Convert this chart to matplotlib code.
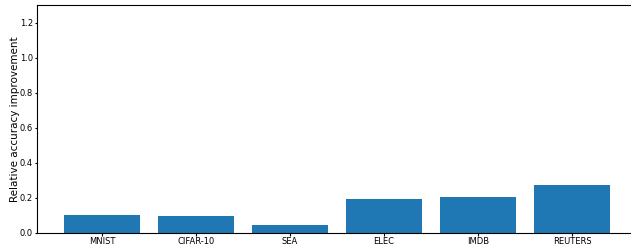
import matplotlib
matplotlib.use('Agg')
import matplotlib.pyplot as plt

datasets = ['MNIST', 'CIFAR-10', 'SEA', 'ELEC', 'IMDB', 'REUTERS']
improvement = [0.102, 0.097, 0.046, 0.193, 0.205, 0.273]

fig = plt.figure(figsize=(6.31, 2.46), dpi=100)
# axes runs a bit past the right edge, like the cropped original
ax = fig.add_axes([37 / 631, 13 / 246, 600 / 631, 228 / 246])

ax.bar(datasets, improvement, width=0.8, color='#1f77b4')
ax.set_ylim(0, 1.3)
ax.set_yticks([0.0, 0.2, 0.4, 0.6, 0.8, 1.0, 1.2])
ax.tick_params(labelsize=6, length=1.8, pad=1)
ax.spines['right'].set_visible(False)
ax.set_ylabel('Relative accuracy improvement', fontsize=7.5, labelpad=0)

fig.savefig('out.png', dpi=100)
